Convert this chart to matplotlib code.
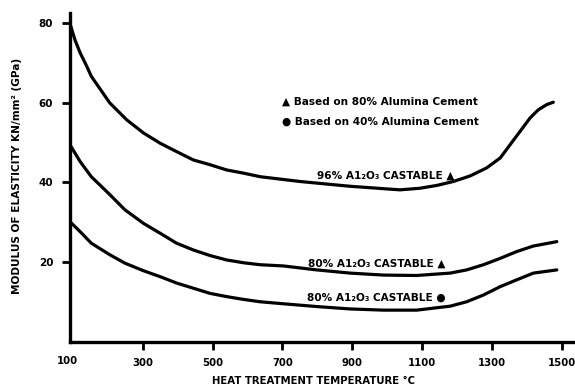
import matplotlib
matplotlib.use("Agg")
import matplotlib.pyplot as plt

# ---- data ----
temp_96 = [92, 106, 121, 140, 153, 206, 254, 302, 350, 397, 445, 493, 540, 588, 636, 750, 893,
           1036, 1093, 1141, 1189, 1237, 1284, 1323, 1351, 1380, 1408, 1432, 1456, 1475]
mod_96 = [79.8, 75.8, 72.5, 69.1, 66.6, 59.9, 55.7, 52.4, 49.8, 47.7, 45.6, 44.4, 43.1, 42.3, 41.4,
          40.2, 39.0, 38.1, 38.5, 39.2, 40.2, 41.6, 43.6, 46.1, 49.4, 52.8, 56.1, 58.2, 59.5, 60.1]

temp_80a = [92, 121, 153, 206, 249, 302, 350, 397, 445, 493, 540, 588, 636, 702, 798, 893, 989,
            1084, 1180, 1227, 1275, 1323, 1370, 1418, 1485]
mod_80a = [49.4, 45.2, 41.4, 36.9, 33.1, 29.7, 27.2, 24.7, 23.0, 21.6, 20.5, 19.8, 19.3, 19.0, 18.0,
           17.2, 16.7, 16.6, 17.2, 18.0, 19.3, 20.9, 22.6, 24.0, 25.1]

temp_80b = [92, 121, 153, 206, 249, 302, 350, 397, 445, 493, 540, 588, 636, 702, 798, 893, 989,
            1084, 1132, 1180, 1227, 1275, 1323, 1370, 1418, 1485]
mod_80b = [30.1, 27.6, 24.7, 21.8, 19.7, 17.8, 16.3, 14.7, 13.4, 12.1, 11.3, 10.6, 10.0, 9.5, 8.8,
           8.2, 7.9, 7.9, 8.4, 8.9, 10.0, 11.7, 13.8, 15.5, 17.2, 18.0]

xticks = [300, 500, 700, 900, 1100, 1300, 1500]
yticks = [20, 40, 60, 80]

W, H = 575, 388
fig = plt.figure(figsize=(W / 100, H / 100), dpi=100)
ax = fig.add_axes([70 / W, 1 - 341.6 / H, (575 - 70) / W, (341.6 - 13) / H])

for xs, ys in [(temp_96, mod_96), (temp_80a, mod_80a), (temp_80b, mod_80b)]:
    ax.plot(xs, ys, color="black", lw=2.3, solid_capstyle="round", solid_joinstyle="round")

ax.set_xlim(92, 1537)
ax.set_ylim(0, 82.5)
ax.spines["top"].set_visible(False)
ax.spines["right"].set_visible(False)
for s in ("left", "bottom"):
    ax.spines[s].set_linewidth(2.4)
ax.set_xticks(xticks)
ax.set_xticklabels([str(t) for t in xticks], fontsize=7.3, fontweight="bold")
ax.set_yticks(yticks)
ax.set_yticklabels([str(t) for t in yticks], fontsize=7.5, fontweight="bold")
ax.tick_params(axis="both", direction="out", length=6, width=2, pad=6)

# '100' label at the origin (no tick)
ax.text(84, -3.6, "100", ha="center", va="top", fontsize=7.3, fontweight="bold",
        transform=ax.transData, clip_on=False)

# axis titles
fig.text(17 / W, 1 - 176 / H, "MODULUS OF ELASTICITY KN/mm² (GPa)", rotation=90,
         ha="center", va="center", fontsize=7.6, fontweight="bold")
fig.text(314 / W, 1 - 381 / H, "HEAT TREATMENT TEMPERATURE °C", ha="center", va="center",
         fontsize=7.3, fontweight="bold")

# key
fig.text(282 / W, 1 - 102 / H, "▲ Based on 80% Alumina Cement", ha="left", va="center",
         fontsize=7.6, fontweight="bold")
fig.text(282 / W, 1 - 122 / H, "● Based on 40% Alumina Cement", ha="left", va="center",
         fontsize=7.6, fontweight="bold")

# curve labels
fig.text(386 / W, 1 - 176 / H, "96% A1₂O₃ CASTABLE ▲", ha="center", va="center",
         fontsize=7.6, fontweight="bold")
fig.text(377 / W, 1 - 264 / H, "80% A1₂O₃ CASTABLE ▲", ha="center", va="center",
         fontsize=7.6, fontweight="bold")
fig.text(376 / W, 1 - 298 / H, "80% A1₂O₃ CASTABLE ●", ha="center", va="center",
         fontsize=7.6, fontweight="bold")

fig.savefig("out.png", dpi=100)
